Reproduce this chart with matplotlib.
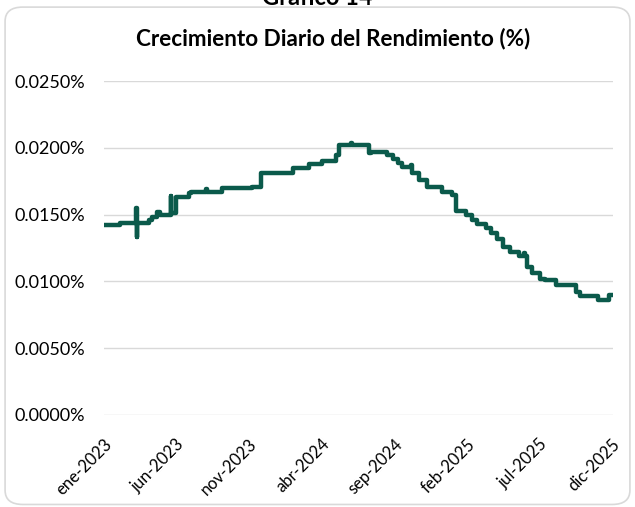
import matplotlib
matplotlib.use("Agg")
import matplotlib.pyplot as plt
from matplotlib.patches import FancyBboxPatch
from matplotlib.ticker import FuncFormatter
import pandas as pd

plt.rcParams['font.family'] = ['Lato', 'DejaVu Sans']

dates = ["2023-01-01", "2023-02-04", "2023-03-11", "2023-03-12", "2023-03-13", "2023-04-06",
         "2023-04-12", "2023-04-23", "2023-04-29", "2023-05-22", "2023-05-23", "2023-06-02",
         "2023-06-29", "2023-07-03", "2023-08-04", "2023-08-06", "2023-09-07", "2023-11-09",
         "2023-11-28", "2024-02-01", "2024-03-07", "2024-04-03", "2024-05-02", "2024-05-09",
         "2024-06-03", "2024-06-05", "2024-07-11", "2024-07-15", "2024-08-16", "2024-08-29",
         "2024-09-09", "2024-09-17", "2024-10-06", "2024-10-09", "2024-10-24", "2024-11-08",
         "2024-12-11", "2024-12-31", "2025-01-08", "2025-01-30", "2025-02-11", "2025-02-22",
         "2025-03-13", "2025-03-23", "2025-04-05", "2025-04-18", "2025-05-02", "2025-05-21",
         "2025-06-01", "2025-06-03", "2025-06-07", "2025-06-16", "2025-07-04", "2025-07-15",
         "2025-08-07", "2025-09-16", "2025-09-25", "2025-11-02", "2025-11-25", "2025-12-03"]
values = [0.0142, 0.01435, 0.0155, 0.0133, 0.0144, 0.0146,
          0.0148, 0.0152, 0.0150, 0.0164, 0.0151, 0.0163,
          0.0166, 0.0167, 0.0169, 0.0167, 0.0170, 0.0171,
          0.0181, 0.0185, 0.0188, 0.0190, 0.0195, 0.0202,
          0.0204, 0.0202, 0.0196, 0.0197, 0.0195, 0.0192,
          0.0189, 0.0186, 0.0187, 0.0181, 0.0176, 0.0171,
          0.0167, 0.0165, 0.0153, 0.0150, 0.0146, 0.0143,
          0.0140, 0.0136, 0.0132, 0.0126, 0.0122, 0.0119,
          0.0121, 0.0119, 0.0111, 0.0106, 0.0102, 0.0101,
          0.0097, 0.0092, 0.0089, 0.0086, 0.0090, 0.0090]

tick_dates = ["2023-01-01", "2023-06-01", "2023-11-01", "2024-04-01",
              "2024-09-01", "2025-02-01", "2025-07-01", "2025-12-01"]
tick_labels = ["ene-2023", "jun-2023", "nov-2023", "abr-2024",
               "sep-2024", "feb-2025", "jul-2025", "dic-2025"]
y_ticks = [0.0, 0.005, 0.010, 0.015, 0.020, 0.025]

title = "Crecimiento Diario del Rendimiento (%)"
line_color = "#0b5a4b"
grid_color = "#d9d9d9"

x = pd.to_datetime(dates)
fig = plt.figure(figsize=(6.35, 5.07), dpi=100)
fig.patch.set_facecolor("white")

border = FancyBboxPatch((0.008, 0.005), 0.984, 0.981,
                        boxstyle="round,pad=0,rounding_size=0.028",
                        transform=fig.transFigure, facecolor="none",
                        edgecolor=grid_color, linewidth=1.2, zorder=-5)
fig.patches.append(border)

fig.text(0.5, 1.005, "Gráfico 14", ha="center", va="center",
         fontsize=17, fontweight="bold", color="black")

ax = fig.add_axes([0.163, 0.1815, 0.802, 0.6585])
ax.set_facecolor("none")
ax.plot(x, values, drawstyle="steps-post", color=line_color, linewidth=3.2,
        solid_joinstyle="round", solid_capstyle="round", zorder=3)

ax.set_ylim(0, 0.025)
ax.set_yticks(y_ticks)
ax.yaxis.set_major_formatter(FuncFormatter(lambda v, p: f"{v:.4f}%"))
ax.set_xlim(pd.Timestamp("2023-01-01"), pd.Timestamp("2025-12-03"))
ax.set_xticks(pd.to_datetime(tick_dates))
ax.set_xticklabels(tick_labels, rotation=45, ha="right", rotation_mode="anchor")

ax.grid(axis="y", color=grid_color, linewidth=1.0, zorder=0)
ax.grid(axis="x", visible=False)
for s in ax.spines.values():
    s.set_visible(False)
ax.tick_params(axis="both", length=0, colors="black")
ax.tick_params(axis="y", pad=13, labelsize=13)
ax.tick_params(axis="x", pad=15, labelsize=12)

fig.text(0.525, 0.925, title, ha="center", va="center", fontsize=16.2,
         fontweight="bold", color="black")

fig.savefig("out.png", dpi=100)
